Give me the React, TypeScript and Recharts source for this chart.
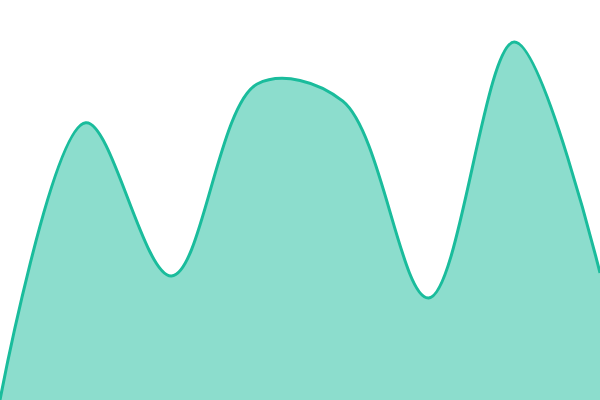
import React from 'react';
import { AreaChart, Area, XAxis, YAxis } from 'recharts';

const labels = ['A', 'B', 'C', 'D', 'E', 'F', 'G', 'H'];
const values = [0, 69.3, 31, 79, 74.7, 25.5, 89.5, 31.75];

const data = labels.map((name, i) => ({ name, value: values[i] }));

// centripetal catmull-rom (alpha 0.5), written after d3's curveCatmullRom
function catmullPoint(that: any, x: number, y: number) {
    let x1 = that._x1, y1 = that._y1, x2 = that._x2, y2 = that._y2;
    if (that._l01_a > 1e-12) {
        const a = 2 * that._l01_2a + 3 * that._l01_a * that._l12_a + that._l12_2a;
        const n = 3 * that._l01_a * (that._l01_a + that._l12_a);
        x1 = (x1 * a - that._x0 * that._l12_2a + that._x2 * that._l01_2a) / n;
        y1 = (y1 * a - that._y0 * that._l12_2a + that._y2 * that._l01_2a) / n;
    }
    if (that._l23_a > 1e-12) {
        const b = 2 * that._l23_2a + 3 * that._l23_a * that._l12_a + that._l12_2a;
        const m = 3 * that._l23_a * (that._l23_a + that._l12_a);
        x2 = (x2 * b + that._x1 * that._l23_2a - x * that._l12_2a) / m;
        y2 = (y2 * b + that._y1 * that._l23_2a - y * that._l12_2a) / m;
    }
    that._context.bezierCurveTo(x1, y1, x2, y2, that._x2, that._y2);
}

function catmullRomCurve(context: any): any {
    return {
        _context: context,
        _alpha: 0.5,
        _line: NaN,
        _point: 0,
        _x0: NaN, _x1: NaN, _x2: NaN,
        _y0: NaN, _y1: NaN, _y2: NaN,
        _l01_a: 0, _l12_a: 0, _l23_a: 0,
        _l01_2a: 0, _l12_2a: 0, _l23_2a: 0,
        areaStart() { this._line = 0; },
        areaEnd() { this._line = NaN; },
        lineStart() {
            this._x0 = this._x1 = this._x2 = this._y0 = this._y1 = this._y2 = NaN;
            this._l01_a = this._l12_a = this._l23_a = 0;
            this._l01_2a = this._l12_2a = this._l23_2a = 0;
            this._point = 0;
        },
        lineEnd() {
            switch (this._point) {
                case 2: this._context.lineTo(this._x2, this._y2); break;
                case 3: this.point(this._x2, this._y2); break;
            }
            if (this._line || (this._line !== 0 && this._point === 1)) this._context.closePath();
            this._line = 1 - this._line;
        },
        point(x: number, y: number) {
            x = +x; y = +y;
            if (this._point) {
                const x23 = this._x2 - x, y23 = this._y2 - y;
                this._l23_2a = Math.pow(x23 * x23 + y23 * y23, this._alpha);
                this._l23_a = Math.sqrt(this._l23_2a);
            }
            switch (this._point) {
                case 0:
                    this._point = 1;
                    if (this._line) this._context.lineTo(x, y);
                    else this._context.moveTo(x, y);
                    break;
                case 1:
                    this._point = 2;
                    break;
                case 2:
                    this._point = 3;
                    catmullPoint(this, x, y);
                    break;
                default:
                    catmullPoint(this, x, y);
                    break;
            }
            this._l01_a = this._l12_a; this._l12_a = this._l23_a;
            this._l01_2a = this._l12_2a; this._l12_2a = this._l23_2a;
            this._x0 = this._x1; this._x1 = this._x2; this._x2 = x;
            this._y0 = this._y1; this._y1 = this._y2; this._y2 = y;
        },
    };
}

export default function App() {
    return (
        <>
            <style>{'body{margin:0}'}</style>
            <AreaChart width={600} height={400} data={data} margin={{ top: 0, right: 0, bottom: 0, left: 0 }}>
                <XAxis dataKey="name" hide />
                <YAxis domain={[0, 100]} hide />
                <Area
                    type={catmullRomCurve as any}
                    dataKey="value"
                    stroke="#1abc9c"
                    strokeWidth={3}
                    fill="#1abc9c"
                    fillOpacity={0.5}
                    dot={false}
                    activeDot={false}
                    isAnimationActive={false}
                />
            </AreaChart>
        </>
    );
}
